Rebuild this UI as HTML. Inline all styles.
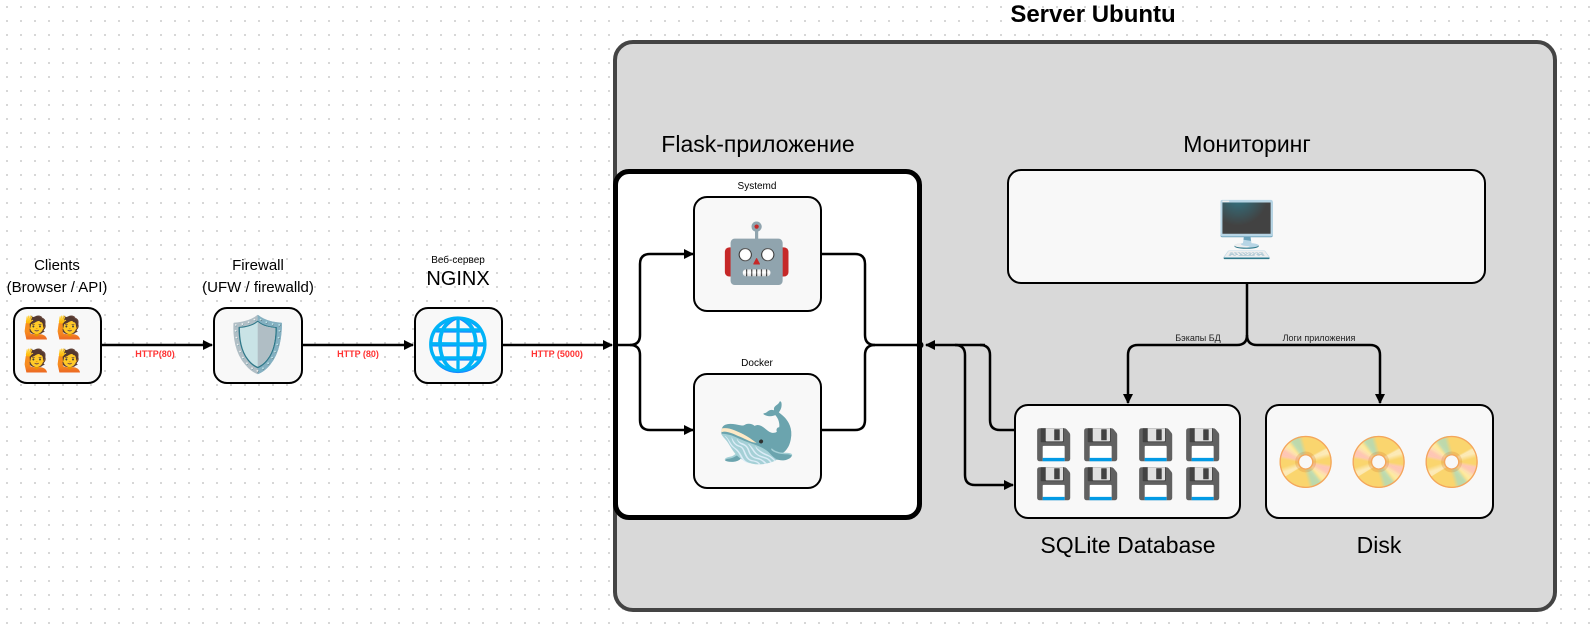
<!DOCTYPE html>
<html><head><meta charset="utf-8"><style>
body{margin:0;width:1595px;height:636px;overflow:hidden;background:#fff;background-image:radial-gradient(#d4d4d4 1px,transparent 1.2px);background-size:14px 14px;font-family:"Liberation Sans","DejaVu Sans",sans-serif;position:relative}
.a{position:absolute}
.box{position:absolute;background:#f8f8f8;border:2.5px solid #000;border-radius:14px;box-sizing:border-box}
.t{position:absolute;text-align:center;white-space:nowrap;transform:translateX(-50%)}
.e{position:absolute;line-height:1;transform:translate(-50%,-50%);white-space:nowrap}
</style></head><body>
<div class="a" style="left:613px;top:40px;width:944px;height:572px;background:#d9d9d9;border:4px solid #444;border-radius:20px;box-sizing:border-box"></div>
<div class="t" style="left:1093px;top:1px;font-size:24px;font-weight:bold">Server Ubuntu</div>
<div class="a" style="left:613px;top:169px;width:309px;height:351px;background:#fff;border:5px solid #000;border-radius:16px;box-sizing:border-box"></div>
<div class="t" style="left:758px;top:131px;font-size:23px">Flask-приложение</div>
<div class="t" style="left:1247px;top:131px;font-size:23px">Мониторинг</div>
<div class="t" style="left:1128px;top:532px;font-size:23px">SQLite Database</div>
<div class="t" style="left:1379px;top:532px;font-size:23px">Disk</div>
<div class="t" style="left:57px;top:255px;font-size:15px;line-height:22px">Clients<br>(Browser / API)</div>
<div class="t" style="left:258px;top:255px;font-size:15px;line-height:22px">Firewall<br>(UFW / firewalld)</div>
<div class="t" style="left:458px;top:255px;font-size:10px">Веб-сервер</div>
<div class="t" style="left:458px;top:268px;font-size:20px">NGINX</div>
<div class="t" style="left:757px;top:181px;font-size:10px">Systemd</div>
<div class="t" style="left:757px;top:358px;font-size:10px">Docker</div>
<div class="t" style="left:155px;top:349px;font-size:9px;font-weight:bold;color:#f33">HTTP(80)</div>
<div class="t" style="left:358px;top:349px;font-size:9px;font-weight:bold;color:#f33">HTTP (80)</div>
<div class="t" style="left:557px;top:349px;font-size:9px;font-weight:bold;color:#f33">HTTP (5000)</div>
<div class="t" style="left:1198px;top:333px;font-size:9px;color:#222">Бэкапы БД</div>
<div class="t" style="left:1319px;top:333px;font-size:9px;color:#222">Логи приложения</div>

<div class="box" style="left:13px;top:307px;width:89px;height:77px"></div>
<div class="box" style="left:213px;top:307px;width:90px;height:77px"></div>
<div class="box" style="left:414px;top:307px;width:89px;height:77px"></div>
<div class="box" style="left:693px;top:196px;width:129px;height:116px"></div>
<div class="box" style="left:693px;top:373px;width:129px;height:116px"></div>
<div class="box" style="left:1007px;top:169px;width:479px;height:115px"></div>
<div class="box" style="left:1014px;top:404px;width:227px;height:115px"></div>
<div class="box" style="left:1265px;top:404px;width:229px;height:115px"></div>

<svg class="a" style="left:0;top:0" width="1595" height="636">
<defs><marker id="m" viewBox="0 0 10 10" refX="9" refY="5" markerWidth="4" markerHeight="4" orient="auto"><path d="M0,0L10,5L0,10z"/></marker></defs>
<g fill="none" stroke="#000" stroke-width="2.5">
<path d="M102,345H212" marker-end="url(#m)"/>
<path d="M303,345H413" marker-end="url(#m)"/>
<path d="M503,345H612" marker-end="url(#m)"/>
<path d="M618,345H630Q640,345 640,335V264Q640,254 650,254H693" marker-end="url(#m)"/>
<path d="M630,345Q640,345 640,355V420Q640,430 650,430H693" marker-end="url(#m)"/>
<path d="M822,254H855Q865,254 865,264V335Q865,345 875,345H918"/>
<path d="M822,430H855Q865,430 865,420V355Q865,345 875,345"/>
<path d="M980,345Q990,345 990,355V420Q990,430 1000,430H1014"/>
<path d="M985,345H926" marker-end="url(#m)"/>
<path d="M955,345Q965,345 965,355V475Q965,485 975,485H1013" marker-end="url(#m)"/>
<path d="M1247,284V335Q1247,345 1237,345H1138Q1128,345 1128,355V403" marker-end="url(#m)"/>
<path d="M1247,335Q1247,345 1257,345H1370Q1380,345 1380,355V403" marker-end="url(#m)"/>
</g>
<circle cx="920" cy="345" r="3.5"/>
</svg>
<div class="e" style="left:37px;top:328px;font-size:22px">🙋</div>
<div class="e" style="left:70px;top:328px;font-size:22px">🙋</div>
<div class="e" style="left:37px;top:361px;font-size:22px">🙋</div>
<div class="e" style="left:70px;top:361px;font-size:22px">🙋</div>
<div class="e" style="left:258px;top:345px;font-size:54px">🛡️</div>
<div class="e" style="left:458px;top:345px;font-size:52px">🌐</div>
<div class="e" style="left:757px;top:254px;font-size:58px">🤖</div>
<div class="e" style="left:757px;top:432px;font-size:66px">🐋</div>
<div class="e" style="left:1247px;top:230px;font-size:54px">🖥️</div>
<div class="e" style="left:1054px;top:446px;font-size:30px">💾</div>
<div class="e" style="left:1101px;top:446px;font-size:30px">💾</div>
<div class="e" style="left:1156px;top:446px;font-size:30px">💾</div>
<div class="e" style="left:1203px;top:446px;font-size:30px">💾</div>
<div class="e" style="left:1054px;top:485px;font-size:30px">💾</div>
<div class="e" style="left:1101px;top:485px;font-size:30px">💾</div>
<div class="e" style="left:1156px;top:485px;font-size:30px">💾</div>
<div class="e" style="left:1203px;top:485px;font-size:30px">💾</div>
<div class="e" style="left:1306px;top:462px;font-size:50px">📀</div>
<div class="e" style="left:1379px;top:462px;font-size:50px">📀</div>
<div class="e" style="left:1452px;top:462px;font-size:50px">📀</div>
</body></html>
